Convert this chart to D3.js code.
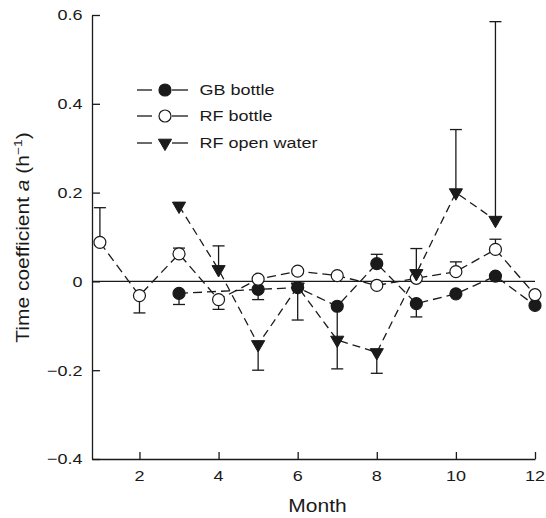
<!DOCTYPE html>
<html>
<head>
<meta charset="utf-8">
<script src="https://cdn.jsdelivr.net/npm/d3@7"></script>
<style>
  html, body { margin: 0; padding: 0; background: #fff; }
  svg { display: block; font-family: "Liberation Sans", Arial, Helvetica, sans-serif; }
</style>
</head>
<body>
<svg id="chart" width="546" height="518"></svg>
<script>
// Monthly time coefficient a (h^-1) for three incubation types.
// Error values are one-sided: positive = bar drawn upward, negative = downward, null = none.
const gbMonths   = [3, 5, 6, 7, 8, 9, 10, 11, 12];
const gbValues   = [-0.027, -0.018, -0.014, -0.056, 0.040, -0.050, -0.028, 0.012, -0.054];
const gbErrors   = [-0.025, -0.023, null, -0.141, 0.021, -0.030, null, null, null];

const rfMonths   = [1, 2, 3, 4, 5, 6, 7, 8, 9, 10, 11, 12];
const rfValues   = [0.088, -0.032, 0.062, -0.041, 0.005, 0.023, 0.013, -0.009, 0.007, 0.022, 0.072, -0.030];
const rfErrors   = [0.078, -0.039, 0.013, -0.022, null, null, null, null, null, 0.022, 0.023, null];

const owMonths   = [3, 4, 5, 6, 7, 8, 9, 10, 11];
const owValues   = [0.170, 0.027, -0.142, -0.012, -0.132, -0.160, 0.018, 0.200, 0.138];
const owErrors   = [null, 0.053, -0.058, -0.075, null, -0.047, 0.056, 0.142, 0.447];

const xTicks = [2, 4, 6, 8, 10, 12];
const yTicks = [-0.4, -0.2, 0, 0.2, 0.4, 0.6];
const yTickLabels = ["\u22120.4", "\u22120.2", "0", "0.2", "0.4", "0.6"];
const legendLabels = ["GB bottle", "RF bottle", "RF open water"];

const ink = "#1a1a1a";
const wide = 1.2; // horizontal widening of the lettering
const svg = d3.select("#chart");
const plot = { left: 92, right: 535, top: 15, bottom: 459 };

const x = d3.scaleLinear().domain([0.8, 12]).range([plot.left, plot.right]);
const y = d3.scaleLinear().domain([-0.4, 0.6]).range([plot.bottom, plot.top]);

// Text helper: widened glyphs anchored at (px, py)
function label(parent, px, py, str, size, anchor) {
  return parent.append("text")
    .attr("transform", `translate(${px},${py}) scale(${wide},1)`)
    .attr("text-anchor", anchor).attr("font-size", size).attr("fill", ink).text(str);
}

// Axes: ticks point inward, labels drawn separately
const xAxis = d3.axisBottom(x).tickValues(xTicks).tickSizeInner(-7).tickSizeOuter(0).tickFormat("");
const yAxis = d3.axisLeft(y).tickValues(yTicks).tickSizeInner(-8).tickSizeOuter(0).tickFormat("");

const gx = svg.append("g").attr("transform", `translate(0,${plot.bottom})`).call(xAxis);
const gy = svg.append("g").attr("transform", `translate(${plot.left},0)`).call(yAxis);
[gx, gy].forEach(g => {
  g.select(".domain").attr("stroke", ink).attr("stroke-width", 1.3);
  g.selectAll(".tick line").attr("stroke", ink).attr("stroke-width", 1.3);
  g.selectAll(".tick text").remove();
});

xTicks.forEach(t => label(svg, x(t), 481, String(t), 15, "middle"));
yTicks.forEach((t, i) => label(svg, 82.5, y(t) + 5.4, yTickLabels[i], 15, "end"));

// Zero reference line
svg.append("line")
  .attr("x1", x(0.8)).attr("x2", x(12))
  .attr("y1", y(0)).attr("y2", y(0))
  .attr("stroke", ink).attr("stroke-width", 1.3);

// Axis titles
label(svg, 317.5, 512, "Month", 17.5, "middle");

const yTitle = svg.append("text")
  .attr("transform", `translate(28.5,237.5) rotate(-90) scale(${wide},1)`)
  .attr("text-anchor", "middle").attr("font-size", 17.5).attr("fill", ink);
yTitle.append("tspan").text("Time coefficient ");
yTitle.append("tspan").attr("font-style", "italic").text("a");
yTitle.append("tspan").text(" (h");
yTitle.append("tspan").attr("font-size", 11.5).attr("dy", -7).text("\u22121");
yTitle.append("tspan").attr("dy", 7).text(")");

const series = [
  { months: gbMonths, values: gbValues, errors: gbErrors, marker: "filledCircle", dash: "9,5" },
  { months: rfMonths, values: rfValues, errors: rfErrors, marker: "openCircle", dash: "9,5" },
  { months: owMonths, values: owValues, errors: owErrors, marker: "triangle", dash: "8,5" }
];

const triPath = d3.symbol().type(d3.symbolTriangle).size(75)();

function drawMarker(g, kind, cx, cy) {
  if (kind === "triangle") {
    g.append("path").attr("d", triPath)
      .attr("transform", `translate(${cx},${cy}) rotate(180)`)
      .attr("fill", ink).attr("stroke", ink).attr("stroke-width", 1);
  } else {
    g.append("circle").attr("cx", cx).attr("cy", cy).attr("r", 6)
      .attr("fill", kind === "filledCircle" ? ink : "#fff")
      .attr("stroke", ink).attr("stroke-width", 1.2);
  }
}

const line = d3.line().x(d => x(d.m)).y(d => y(d.v));

// Dashed connecting lines
series.forEach(s => {
  const pts = s.months.map((m, i) => ({ m, v: s.values[i] }));
  svg.append("path").datum(pts).attr("d", line)
    .attr("fill", "none").attr("stroke", ink).attr("stroke-width", 1.3)
    .attr("stroke-dasharray", s.dash);
});

// One-sided error bars
series.forEach(s => {
  s.months.forEach((m, i) => {
    const e = s.errors[i];
    if (e === null) return;
    const cx = x(m), y0 = y(s.values[i]), y1 = y(s.values[i] + e);
    svg.append("line").attr("x1", cx).attr("x2", cx).attr("y1", y0).attr("y2", y1)
      .attr("stroke", ink).attr("stroke-width", 1.3);
    svg.append("line").attr("x1", cx - 6).attr("x2", cx + 6).attr("y1", y1).attr("y2", y1)
      .attr("stroke", ink).attr("stroke-width", 1.3);
  });
});

// Markers
series.forEach(s => {
  const g = svg.append("g");
  s.months.forEach((m, i) => drawMarker(g, s.marker, x(m), y(s.values[i])));
});

// Legend
const legendY = [90, 116, 143];
series.forEach((s, i) => {
  const g = svg.append("g");
  const ly = legendY[i];
  g.append("line").attr("x1", 137).attr("x2", 152).attr("y1", ly).attr("y2", ly)
    .attr("stroke", ink).attr("stroke-width", 1.3);
  g.append("line").attr("x1", 172).attr("x2", 188).attr("y1", ly).attr("y2", ly)
    .attr("stroke", ink).attr("stroke-width", 1.3);
  drawMarker(g, s.marker, 165, ly);
  label(g, 199.5, ly + 5.4, legendLabels[i], 15, "start");
});
</script>
</body>
</html>
